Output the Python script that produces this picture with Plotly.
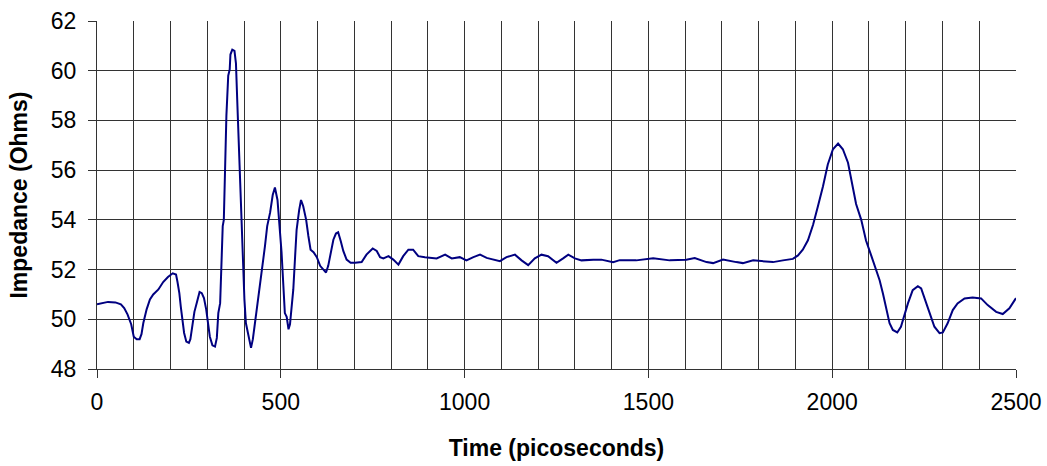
import plotly.graph_objects as go

time_ps = [0, 15, 30, 50, 65, 74, 83, 93, 100, 108, 116, 121, 126, 135, 144, 153, 167, 180, 193, 206,
           215, 219, 224, 228, 233, 237, 243, 250, 254, 259, 265, 272, 279, 285, 291, 297, 303, 307, 314, 321,
           326, 330, 335, 337, 342, 345, 348, 352, 357, 361, 363, 368, 374, 378, 382, 387, 392, 396, 401, 405,
           409, 414, 419, 424, 430, 436, 444, 450, 457, 463, 471, 478, 484, 491, 496, 502, 507, 511, 516, 521,
           525, 530, 534, 539, 543, 550, 555, 561, 569, 575, 581, 589, 598, 607, 616, 623, 629, 636, 643, 650,
           656, 663, 670, 679, 690, 702, 720, 733, 750, 761, 770, 779, 793, 806, 820, 833, 847, 860, 874, 892,
           924, 947, 965, 987, 1005, 1024, 1042, 1060, 1078, 1096, 1114, 1137, 1155, 1173, 1191, 1209, 1227, 1250, 1268, 1282,
           1300, 1318, 1350, 1372, 1404, 1422, 1467, 1513, 1558, 1603, 1626, 1658, 1676, 1703, 1739, 1757, 1785, 1821, 1839, 1866,
           1893, 1907, 1920, 1934, 1948, 1961, 1975, 1988, 2002, 2016, 2029, 2043, 2056, 2065, 2079, 2092, 2106, 2119, 2129, 2138,
           2147, 2156, 2165, 2177, 2187, 2196, 2206, 2219, 2233, 2242, 2254, 2264, 2278, 2292, 2301, 2314, 2328, 2341, 2360, 2382,
           2405, 2423, 2446, 2464, 2482, 2500]

impedance = [50.6, 50.65, 50.7, 50.68, 50.6, 50.45, 50.2, 49.8, 49.3, 49.2, 49.2, 49.4, 49.85, 50.4, 50.8, 51.0, 51.2, 51.5, 51.7, 51.85,
             51.8, 51.5, 51.05, 50.5, 50.0, 49.45, 49.1, 49.05, 49.2, 49.65, 50.3, 50.7, 51.1, 51.05, 50.85, 50.4, 49.7, 49.3, 48.95, 48.9,
             49.25, 50.25, 50.65, 51.85, 53.75, 54.0, 56.3, 58.2, 59.8, 60.05, 60.65, 60.85, 60.8, 60.3, 58.6, 56.4, 54.15, 52.15, 50.8, 49.85,
             49.6, 49.2, 48.85, 49.2, 49.85, 50.65, 51.45, 52.15, 52.95, 53.75, 54.3, 55.0, 55.3, 54.8, 53.9, 52.7, 51.35, 50.25, 50.1, 49.6,
             49.8, 50.65, 51.2, 52.55, 53.6, 54.4, 54.8, 54.55, 54.0, 53.35, 52.8, 52.7, 52.5, 52.15, 52.0, 51.88, 52.15, 52.7, 53.2, 53.45,
             53.5, 53.15, 52.75, 52.4, 52.27, 52.27, 52.3, 52.6, 52.85, 52.75, 52.5, 52.45, 52.54, 52.4, 52.2, 52.54, 52.8, 52.8, 52.54, 52.5,
             52.45, 52.6, 52.45, 52.5, 52.37, 52.5, 52.6, 52.47, 52.4, 52.34, 52.5, 52.6, 52.37, 52.18, 52.45, 52.6, 52.54, 52.27, 52.45, 52.6,
             52.45, 52.37, 52.4, 52.4, 52.3, 52.38, 52.37, 52.46, 52.37, 52.4, 52.46, 52.3, 52.26, 52.4, 52.3, 52.26, 52.37, 52.33, 52.3, 52.37,
             52.43, 52.57, 52.8, 53.18, 53.8, 54.54, 55.35, 56.23, 56.84, 57.07, 56.84, 56.3, 55.35, 54.64, 54.0, 53.17, 52.57, 52.04, 51.57, 51.04,
             50.37, 49.84, 49.57, 49.47, 49.7, 50.17, 50.64, 51.17, 51.33, 51.24, 50.77, 50.3, 49.7, 49.44, 49.47, 49.84, 50.37, 50.64, 50.84, 50.88,
             50.84, 50.57, 50.3, 50.21, 50.44, 50.85]

x_tickvals = [0, 500, 1000, 1500, 2000, 2500]
y_tickvals = [48, 50, 52, 54, 56, 58, 60, 62]

grid_color = "#333333"
font_family = "Liberation Sans, Arial, sans-serif"

fig = go.Figure()
fig.add_trace(go.Scatter(
    x=time_ps, y=impedance, mode="lines",
    line=dict(color="#000080", width=2),
    showlegend=False, hoverinfo="skip",
))

fig.update_layout(
    width=1047, height=466,
    margin=dict(l=97, r=31, t=21, b=97, autoexpand=False),
    paper_bgcolor="white", plot_bgcolor="white",
    font=dict(family=font_family, color="black"),
    xaxis=dict(
        range=[0, 2500], tickvals=x_tickvals, ticktext=[str(v) for v in x_tickvals],
        automargin=False,
        showgrid=True, gridcolor=grid_color, gridwidth=1,
        minor=dict(dtick=100, tick0=0, showgrid=True, gridcolor=grid_color, gridwidth=1, ticks=""),
        ticks="outside", ticklen=8, tickcolor=grid_color, tickwidth=1,
        showline=True, linecolor=grid_color, linewidth=1,
        zeroline=False,
        tickfont=dict(size=23, family=font_family),
        ticklabelstandoff=4,
        title=dict(text="<b>Time (picoseconds)</b>", font=dict(size=23, family=font_family), standoff=26),
    ),
    yaxis=dict(
        range=[48, 62], tickvals=y_tickvals, ticktext=[str(v) for v in y_tickvals],
        automargin=False,
        showgrid=True, gridcolor=grid_color, gridwidth=1,
        ticks="outside", ticklen=8, tickcolor=grid_color, tickwidth=1,
        showline=True, linecolor=grid_color, linewidth=1,
        zeroline=False,
        tickfont=dict(size=23, family=font_family),
        ticklabelstandoff=7,
        title=dict(text="<b>Impedance (Ohms)</b>", font=dict(size=23, family=font_family), standoff=16),
    ),
)

fig.write_html("out.html")
